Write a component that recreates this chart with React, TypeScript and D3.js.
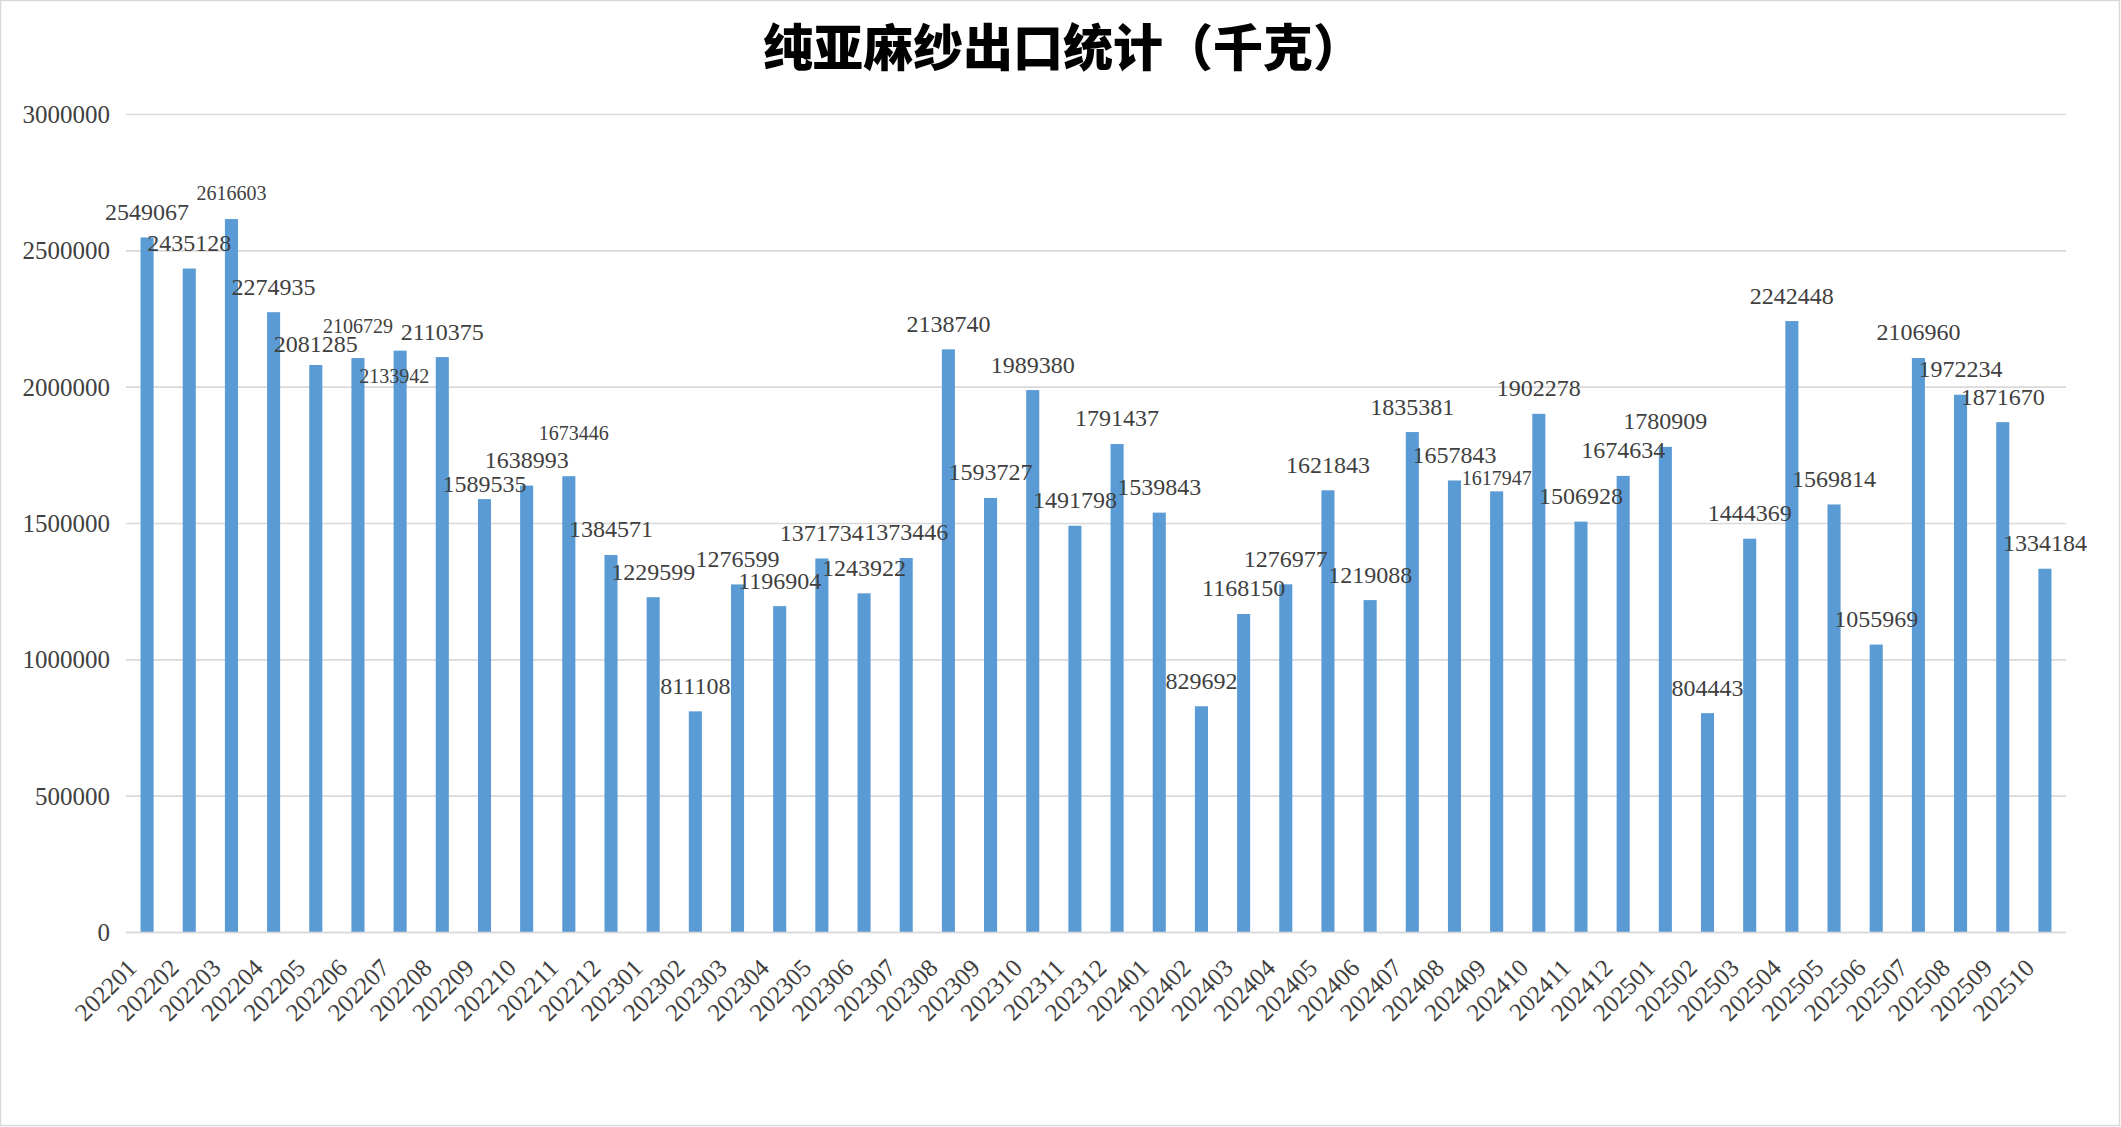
import * as d3 from "d3";
import { useEffect, useRef } from "react";

const months = [
  "202201", "202202", "202203", "202204", "202205", "202206", "202207", "202208", "202209", "202210", "202211", "202212",
  "202301", "202302", "202303", "202304", "202305", "202306", "202307", "202308", "202309", "202310", "202311", "202312",
  "202401", "202402", "202403", "202404", "202405", "202406", "202407", "202408", "202409", "202410", "202411", "202412",
  "202501", "202502", "202503", "202504", "202505", "202506", "202507", "202508", "202509", "202510",
];

const exportKg = [
  2549067, 2435128, 2616603, 2274935, 2081285, 2106729, 2133942, 2110375, 1589535, 1638993, 1673446, 1384571,
  1229599, 811108, 1276599, 1196904, 1371734, 1243922, 1373446, 2138740, 1593727, 1989380, 1491798, 1791437,
  1539843, 829692, 1168150, 1276977, 1621843, 1219088, 1835381, 1657843, 1617947, 1902278, 1506928, 1674634,
  1780909, 804443, 1444369, 2242448, 1569814, 1055969, 2106960, 1972234, 1871670, 1334184,
];

const yTicks = [0, 500000, 1000000, 1500000, 2000000, 2500000, 3000000];

const title = "纯亚麻纱出口统计（千克）";

// labels Excel drew smaller or moved off their default spot
const smallLabels = ["202203", "202206", "202207", "202211", "202409"];
const labelNudge: Record<string, [number, number]> = {
  "202205": [0, 5],
  "202206": [0, -6],
  "202207": [-6, 51],
  "202209": [0, 10],
  "202211": [5, -17],
  "202409": [0, 13],
};

const W = 2121;
const H = 1127;
const numFont = "'Liberation Serif', 'Times New Roman', serif";

export default function App() {
  const svgRef = useRef<SVGSVGElement>(null);

  useEffect(() => {
    document.body.style.margin = "0";
    const svg = d3.select(svgRef.current);
    svg.selectAll("*").remove();

    const left = 126;
    const right = 2066;
    const top = 114.5;
    const bottom = 932.5;

    const x = d3.scaleBand<string>().domain(months).range([left, right]).paddingInner(0.69).paddingOuter(0.345);
    const y = d3.scaleLinear().domain([0, 3000000]).range([bottom, top]);

    svg.attr("viewBox", `0 0 ${W} ${H}`);

    svg
      .append("rect")
      .attr("x", 0.5)
      .attr("y", 0.5)
      .attr("width", W - 2)
      .attr("height", H - 2)
      .attr("fill", "#ffffff")
      .attr("stroke", "#d9d9d9")
      .attr("stroke-width", 1.5);

    // ink of the full-width brackets sits off-centre, so nudge right
    svg
      .append("text")
      .attr("x", 1063)
      .attr("y", 66)
      .attr("text-anchor", "middle")
      .attr("font-family", "'Noto Sans CJK SC', sans-serif")
      .attr("font-weight", 900)
      .attr("font-size", 50)
      .attr("fill", "#000000")
      .text(title);

    const grid = svg.append("g");
    yTicks.forEach((t) => {
      grid
        .append("line")
        .attr("x1", left)
        .attr("x2", right)
        .attr("y1", y(t))
        .attr("y2", y(t))
        .attr("stroke", "#d9d9d9")
        .attr("stroke-width", 1.6);
      grid
        .append("text")
        .attr("x", 110)
        .attr("y", y(t) + 0.34 * 25)
        .attr("text-anchor", "end")
        .attr("font-family", numFont)
        .attr("font-size", 25)
        .attr("fill", "#404040")
        .text(String(t));
    });

    svg
      .append("g")
      .selectAll("rect")
      .data(exportKg)
      .join("rect")
      .attr("x", (_, i) => x(months[i])!)
      .attr("y", (d) => y(d))
      .attr("width", x.bandwidth())
      .attr("height", (d) => bottom - y(d))
      .attr("fill", "#5b9bd5");

    // redraw the zero line over the bars
    svg
      .append("line")
      .attr("x1", left)
      .attr("x2", right)
      .attr("y1", bottom)
      .attr("y2", bottom)
      .attr("stroke", "#d9d9d9")
      .attr("stroke-width", 1.6);

    const labels = svg.append("g").attr("font-family", numFont).attr("fill", "#404040");
    exportKg.forEach((v, i) => {
      const m = months[i];
      const small = smallLabels.includes(m);
      const fs = small ? 20 : 24;
      const [dx, dy] = labelNudge[m] ?? [0, 0];
      const cx = x(m)! + x.bandwidth() / 2 + dx;
      const cy = y(v) - 25.7 + dy;
      labels
        .append("text")
        .attr("x", cx)
        .attr("y", cy + 0.34 * fs)
        .attr("text-anchor", "middle")
        .attr("font-size", fs)
        .text(String(v));
    });

    const xLabels = svg.append("g").attr("font-family", numFont).attr("fill", "#404040");
    months.forEach((m) => {
      const cx = x(m)! + x.bandwidth() / 2;
      xLabels
        .append("text")
        .attr("transform", `translate(${cx - 9}, ${bottom + 37}) rotate(-45)`)
        .attr("text-anchor", "end")
        .attr("font-size", 25)
        .text(m);
    });
  }, []);

  return <svg ref={svgRef} width={W} height={H} style={{ display: "block" }} />;
}
